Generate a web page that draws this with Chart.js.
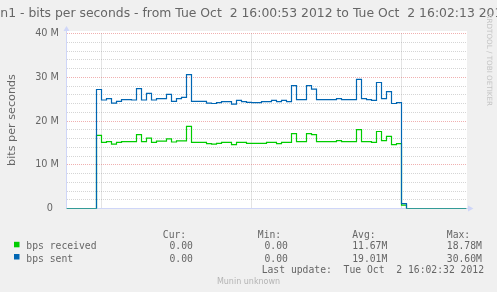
<!DOCTYPE html>
<html><head><meta charset="utf-8">
<script src="https://cdn.jsdelivr.net/npm/chart.js@4"></script>
<style>html,body{margin:0;padding:0;background:#f0f0f0;}canvas{display:block;}</style>
</head><body>
<canvas id="c" width="497" height="292"></canvas>
<script>
const titleText = "wlan1 - bits per seconds - from Tue Oct  2 16:00:53 2012 to Tue Oct  2 16:02:13 2012";
const hiddenTitlePrefix = "wla";
const yAxisLabel = "bits per seconds";
const seriesNames = ["bps received", "bps sent"];
const seriesColors = ["#00CC00", "#0066B3"];
// seconds after 16:00:53
const seconds = [0,1,2,3,4,5,6,7,8,9,10,11,12,13,14,15,16,17,18,19,20,21,22,23,24,25,26,27,28,29,30,31,32,33,34,35,36,37,38,39,40,41,42,43,44,45,46,47,48,49,50,51,52,53,54,55,56,57,58,59,60,61,62,63,64,65,66,67,68,69,70,71,72,73,74,75,76,77,78,79,80];
// values in Mbit/s, each held for the second that starts at its time
const receivedM = [0,0,0,0,0,0,
  16.7,15.1,15.3,14.7,15.1,
  15.3,15.3,15.3,16.9,15.3,
  16.1,15.1,15.4,15.4,15.9,
  15.2,15.45,15.45,18.78,15.1,
  15.1,15.1,14.85,14.7,14.9,
  15.1,15.1,14.6,15.1,15.1,
  14.9,14.9,14.9,14.9,15.1,
  15.1,14.85,15.1,15.1,17.1,
  15.3,15.3,17.1,16.9,15.3,
  15.3,15.3,15.3,15.5,15.3,
  15.3,15.3,18.05,15.3,15.3,
  15.1,17.6,15.5,16.5,14.6,
  14.85,0.75,
  0,0,0,0,0,0,0,0,0,0,0,0,0];
const sentM = [0,0,0,0,0,0,
  27.2,24.8,25.1,24.1,24.5,
  24.9,24.9,24.8,27.4,24.8,
  26.3,24.8,25.1,25.1,26.1,
  24.5,25.1,25.4,30.6,24.5,
  24.5,24.5,24.1,24.0,24.2,
  24.45,24.45,23.85,24.7,24.45,
  24.25,24.2,24.2,24.45,24.45,
  24.7,24.45,24.7,24.45,28.1,
  24.9,24.9,28.1,27.3,24.9,
  24.9,24.9,24.9,25.1,24.9,
  24.9,24.9,29.5,25.1,24.9,
  24.7,28.8,25.1,26.7,24.0,
  24.2,1.1,
  0,0,0,0,0,0,0,0,0,0,0,0,0];
const yTickLabels = {0: "0  ", 10: "10 M", 20: "20 M", 30: "30 M", 40: "40 M"};
const gridSeconds = [7, 37, 67]; // 16:01:00, 16:01:30, 16:02:00
const legendHeaders = ["Cur:", "Min:", "Avg:", "Max:"];
const receivedStats = ["0.00", "0.00", "11.67M", "18.78M"];
const sentStats = ["0.00", "0.00", "19.01M", "30.60M"];
const lastUpdate = "Last update:  Tue Oct  2 16:02:32 2012";
const watermark = "Munin unknown";
const sideText = "RRDTOOL / TOBI OETIKER";

const FONT = '#666666';
const AXIS = '#CFD6F8';

// value at time t holds until t+1
function stepPoints(values) {
  const pts = [{ x: seconds[0], y: values[0] }];
  for (let i = 1; i < seconds.length; i++) pts.push({ x: seconds[i], y: values[i - 1] }, { x: seconds[i], y: values[i] });
  return pts;
}

const decor = {
  id: 'decor',
  beforeDraw(chart) {
    const c = chart.ctx;
    c.save();
    c.fillStyle = '#ffffff';
    c.fillRect(67, 31, 400, 177);
    c.restore();
  },
  beforeDatasetsDraw(chart) {
    const c = chart.ctx;
    c.save();
    c.fillStyle = AXIS;
    c.fillRect(66, 29, 1, 180);
    c.fillRect(66, 208, 403, 1);
    c.beginPath(); c.moveTo(63.5, 31); c.lineTo(66.5, 26); c.lineTo(69.5, 31); c.closePath(); c.fill();
    c.beginPath(); c.moveTo(468, 205.5); c.lineTo(473.5, 208.5); c.lineTo(468, 211.5); c.closePath(); c.fill();
    c.restore();
  },
  afterDraw(chart) {
    const c = chart.ctx;
    c.save();
    c.fillStyle = FONT;
    c.font = '12.4px "DejaVu Sans"';
    c.textBaseline = 'alphabetic';
    c.textAlign = 'left';
    c.fillText(titleText, 0.3 - c.measureText(hiddenTitlePrefix).width, 17.3);
    c.save();
    c.translate(15, 120);
    c.rotate(-Math.PI / 2);
    c.font = '11.2px "DejaVu Sans"';
    c.textAlign = 'center';
    c.fillText(yAxisLabel, 0, 0);
    c.restore();
    c.save();
    c.translate(487, 13.5);
    c.rotate(Math.PI / 2);
    c.font = '7.2px "DejaVu Sans"';
    c.fillStyle = '#c4c4c4';
    c.textAlign = 'left';
    c.fillText(sideText, 0, 0);
    c.restore();
    c.font = '9.72px "DejaVu Sans Mono"';
    c.fillStyle = FONT;
    c.textAlign = 'left';
    const colX = [162.8, 257.8, 352.2, 446.8];
    const valX = [169.5, 264.5, 352.2, 446.8];
    legendHeaders.forEach((h, i) => c.fillText(h, colX[i], 237.5));
    const rows = [[seriesNames[0], receivedStats, seriesColors[0], 249.3], [seriesNames[1], sentStats, seriesColors[1], 261.5]];
    rows.forEach(([name, stats, col, y]) => {
      c.fillStyle = col;
      c.fillRect(14, y - 7.5, 5.5, 5.5);
      c.fillStyle = FONT;
      c.fillText(name, 26.3, y);
      stats.forEach((s, i) => c.fillText(s, valX[i], y));
    });
    c.textAlign = 'right';
    c.fillText(lastUpdate, 484, 273.4);
    c.textAlign = 'center';
    c.font = '8px "DejaVu Sans"';
    c.fillStyle = '#b4b4b4';
    c.fillText(watermark, 248.5, 283.5);
    c.restore();
  }
};

new Chart(document.getElementById('c'), {
  type: 'line',
  data: {
    datasets: [
      { label: seriesNames[1], data: stepPoints(sentM), borderColor: seriesColors[1], borderWidth: 1.2, pointRadius: 0, fill: false },
      { label: seriesNames[0], data: stepPoints(receivedM), borderColor: seriesColors[0], borderWidth: 1.2, pointRadius: 0, fill: false }
    ]
  },
  options: {
    responsive: false, animation: false, devicePixelRatio: 1,
    layout: { padding: { left: 0, top: 33.5, right: 30.5, bottom: 83.5 } },
    plugins: { legend: { display: false }, title: { display: false }, tooltip: { enabled: false } },
    scales: {
      x: {
        type: 'linear', min: 0, max: 80,
        afterBuildTicks: s => { s.ticks = gridSeconds.map(v => ({ value: v })); },
        afterFit: s => { s.height = 0; },
        ticks: { display: false },
        grid: { color: 'rgba(150,150,150,0.5)', drawTicks: false, lineWidth: 1 },
        border: { display: false, dash: [1, 1] }
      },
      y: {
        min: 0, max: 40,
        afterFit: s => { s.width = 66.5; },
        ticks: { stepSize: 2, autoSkip: false, padding: 7.5, color: FONT, font: { family: 'DejaVu Sans', size: 9.72 }, callback: v => (yTickLabels[v] !== undefined ? yTickLabels[v] : '') },
        grid: { drawTicks: false, lineWidth: 1, color: ctx => (ctx.tick && ctx.tick.value % 10 === 0 ? 'rgba(222,79,79,0.45)' : 'rgba(150,150,150,0.4)') },
        border: { display: false, dash: [1, 1] }
      }
    }
  },
  plugins: [decor]
});
</script>
</body></html>
